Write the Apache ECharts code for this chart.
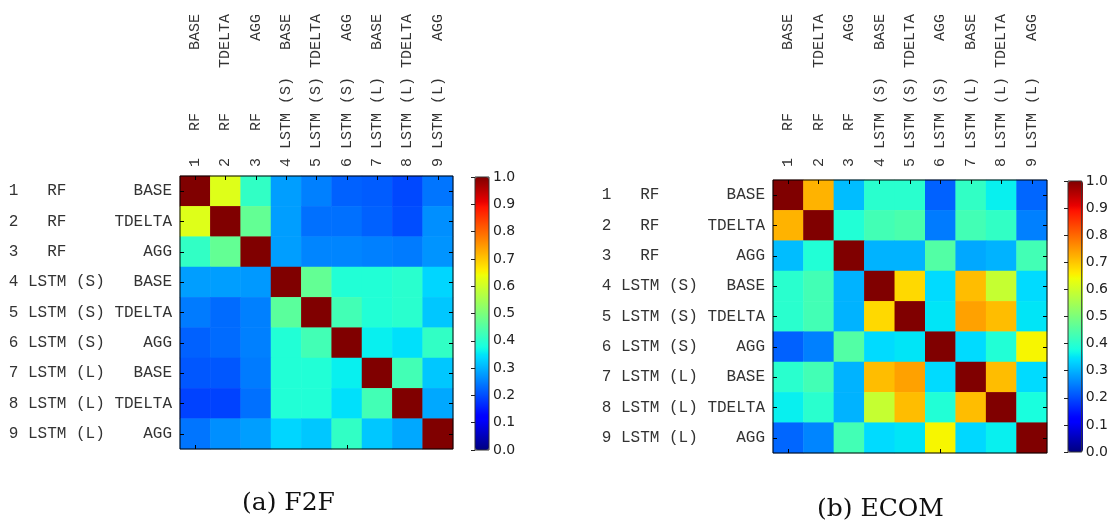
<!DOCTYPE html>
<html>
<head>
<meta charset="utf-8">
<script src="https://cdn.jsdelivr.net/npm/echarts@6/dist/echarts.min.js"></script>
<style>
  html, body { margin: 0; padding: 0; background: #fff; }
  #main { width: 1111px; height: 526px; }
</style>
</head>
<body>
<div id="main"></div>
<script>
// row / column names (monospace, padded like the original figure)
const labels = [
  '1   RF       BASE',
  '2   RF     TDELTA',
  '3   RF        AGG',
  '4 LSTM (S)   BASE',
  '5 LSTM (S) TDELTA',
  '6 LSTM (S)    AGG',
  '7 LSTM (L)   BASE',
  '8 LSTM (L) TDELTA',
  '9 LSTM (L)    AGG'
]

// (a) F2F correlation matrix, rows top to bottom
const f2f = [
  [1.00, 0.62, 0.41, 0.28, 0.25, 0.22, 0.215, 0.195, 0.24],
  [0.62, 1.00, 0.47, 0.28, 0.235, 0.235, 0.22, 0.20, 0.265],
  [0.41, 0.47, 1.00, 0.28, 0.255, 0.255, 0.25, 0.245, 0.27],
  [0.28, 0.28, 0.275, 1.00, 0.47, 0.39, 0.39, 0.40, 0.335],
  [0.245, 0.23, 0.25, 0.46, 1.00, 0.43, 0.39, 0.40, 0.32],
  [0.22, 0.23, 0.25, 0.39, 0.43, 1.00, 0.36, 0.345, 0.41],
  [0.21, 0.21, 0.245, 0.39, 0.39, 0.36, 1.00, 0.43, 0.32],
  [0.19, 0.19, 0.235, 0.39, 0.39, 0.345, 0.43, 1.00, 0.29],
  [0.24, 0.265, 0.28, 0.335, 0.32, 0.41, 0.32, 0.29, 1.00]
]

// (b) ECOM correlation matrix
const ecom = [
  [1.00, 0.72, 0.31, 0.40, 0.40, 0.22, 0.41, 0.36, 0.225],
  [0.72, 1.00, 0.39, 0.43, 0.44, 0.245, 0.43, 0.41, 0.25],
  [0.31, 0.39, 1.00, 0.30, 0.30, 0.45, 0.29, 0.30, 0.43],
  [0.40, 0.43, 0.30, 1.00, 0.68, 0.34, 0.71, 0.59, 0.34],
  [0.40, 0.43, 0.30, 0.68, 1.00, 0.35, 0.74, 0.71, 0.35],
  [0.22, 0.25, 0.45, 0.34, 0.35, 1.00, 0.34, 0.39, 0.65],
  [0.40, 0.43, 0.30, 0.71, 0.74, 0.34, 1.00, 0.71, 0.34],
  [0.36, 0.40, 0.30, 0.59, 0.71, 0.39, 0.71, 1.00, 0.38],
  [0.225, 0.255, 0.43, 0.34, 0.35, 0.65, 0.337, 0.36, 1.00]
]

const captions = ['(a) F2F', '(b) ECOM']

// matplotlib "jet" colormap
const jetSeg = {
  r: [[0, 0], [0.35, 0], [0.66, 1], [0.89, 1], [1, 0.5]],
  g: [[0, 0], [0.125, 0], [0.375, 1], [0.64, 1], [0.91, 0], [1, 0]],
  b: [[0, 0.5], [0.11, 1], [0.34, 1], [0.65, 0], [1, 0]]
}
function seg (pts, t) {
  for (let i = 1; i < pts.length; i++) {
    if (t <= pts[i][0]) {
      const a = pts[i - 1], b = pts[i]
      return a[1] + (b[1] - a[1]) * (t - a[0]) / (b[0] - a[0])
    }
  }
  return pts[pts.length - 1][1]
}
function jet (t) {
  const c = k => Math.round(seg(jetSeg[k], t) * 255)
  return 'rgb(' + c('r') + ',' + c('g') + ',' + c('b') + ')'
}
const jetColors = []
for (let i = 0; i <= 100; i++) jetColors.push(jet(i / 100))

function toCells (m) {
  const out = []
  m.forEach((row, y) => row.forEach((v, x) => out.push([x, y, v])))
  return out
}

const mono = 'Liberation Mono'
const tickStyle = { show: true, inside: true, length: 4, alignWithLabel: true, lineStyle: { color: '#000' } }

function heatAxes (gi, topMargin) {
  const xs = [
    {
      gridIndex: gi, type: 'category', data: labels, position: 'top', z: 10,
      axisLine: { show: false }, axisTick: tickStyle, splitLine: { show: false },
      axisLabel: { rotate: -90, margin: topMargin, fontFamily: mono, fontSize: 15, color: '#333', interval: 0 }
    },
    {
      gridIndex: gi, type: 'category', data: labels, position: 'bottom', z: 10,
      axisLine: { show: false }, axisTick: tickStyle, axisLabel: { show: false }
    }
  ]
  const ys = [
    {
      gridIndex: gi, type: 'category', data: labels, inverse: true, position: 'left', z: 10,
      axisLine: { show: false }, axisTick: tickStyle,
      axisLabel: { margin: 8, fontFamily: mono, fontSize: 16, color: '#333', interval: 0 }
    },
    {
      gridIndex: gi, type: 'category', data: labels, inverse: true, position: 'right', z: 10,
      axisLine: { show: false }, axisTick: tickStyle, axisLabel: { show: false }
    }
  ]
  return { xs, ys }
}

function barAxes (gi) {
  return {
    x: { gridIndex: gi, type: 'value', show: false, min: 0, max: 1 },
    y: {
      gridIndex: gi, type: 'value', min: 0, max: 1, interval: 0.1, position: 'right', z: 10,
      axisLine: { show: false }, splitLine: { show: false },
      axisTick: { show: true, inside: true, length: 4, lineStyle: { color: '#222' } },
      axisLabel: { margin: 4, fontFamily: 'DejaVu Sans', fontSize: 14, color: '#222', formatter: v => v.toFixed(1) }
    }
  }
}

const a = heatAxes(0, 9)
const b = heatAxes(1, 13)
const ca = barAxes(2)
const cb = barAxes(3)

const chart = echarts.init(document.getElementById('main'), null, { renderer: 'canvas' })
chart.setOption({
  animation: false,
  backgroundColor: '#fff',
  title: [
    { text: captions[0], left: 242, top: 491, padding: 0,
      textStyle: { fontFamily: 'DejaVu Serif', fontSize: 25, fontWeight: 'normal', color: '#111' } },
    { text: captions[1], left: 817, top: 497, padding: 0,
      textStyle: { fontFamily: 'DejaVu Serif', fontSize: 25, fontWeight: 'normal', color: '#111' } }
  ],
  grid: [
    { left: 180, top: 176, width: 273, height: 273, show: true, z: 10, borderColor: '#000', borderWidth: 1, backgroundColor: 'transparent' },
    { left: 773, top: 180, width: 274, height: 273, show: true, z: 10, borderColor: '#000', borderWidth: 1, backgroundColor: 'transparent' },
    { left: 475, top: 177, width: 14, height: 273, show: true, z: 10, borderColor: '#333', borderWidth: 1, backgroundColor: 'transparent' },
    { left: 1068, top: 181, width: 15, height: 271, show: true, z: 10, borderColor: '#333', borderWidth: 1, backgroundColor: 'transparent' }
  ],
  xAxis: [...a.xs, ...b.xs, ca.x, cb.x],
  yAxis: [...a.ys, ...b.ys, ca.y, cb.y],
  visualMap: [
    { type: 'continuous', seriesIndex: 0, min: 0, max: 1, calculable: false, left: 475, top: 177,
      itemWidth: 14, itemHeight: 273, padding: 0, inRange: { color: jetColors } },
    { type: 'continuous', seriesIndex: 1, min: 0, max: 1, calculable: false, left: 1068, top: 181,
      itemWidth: 15, itemHeight: 271, padding: 0, inRange: { color: jetColors } }
  ],
  series: [
    { type: 'heatmap', xAxisIndex: 0, yAxisIndex: 0, data: toCells(f2f), itemStyle: { borderWidth: 0 }, emphasis: { disabled: true } },
    { type: 'heatmap', xAxisIndex: 2, yAxisIndex: 2, data: toCells(ecom), itemStyle: { borderWidth: 0 }, emphasis: { disabled: true } },
    { type: 'scatter', xAxisIndex: 4, yAxisIndex: 4, data: [], silent: true },
    { type: 'scatter', xAxisIndex: 5, yAxisIndex: 5, data: [], silent: true }
  ]
})
</script>
</body>
</html>
